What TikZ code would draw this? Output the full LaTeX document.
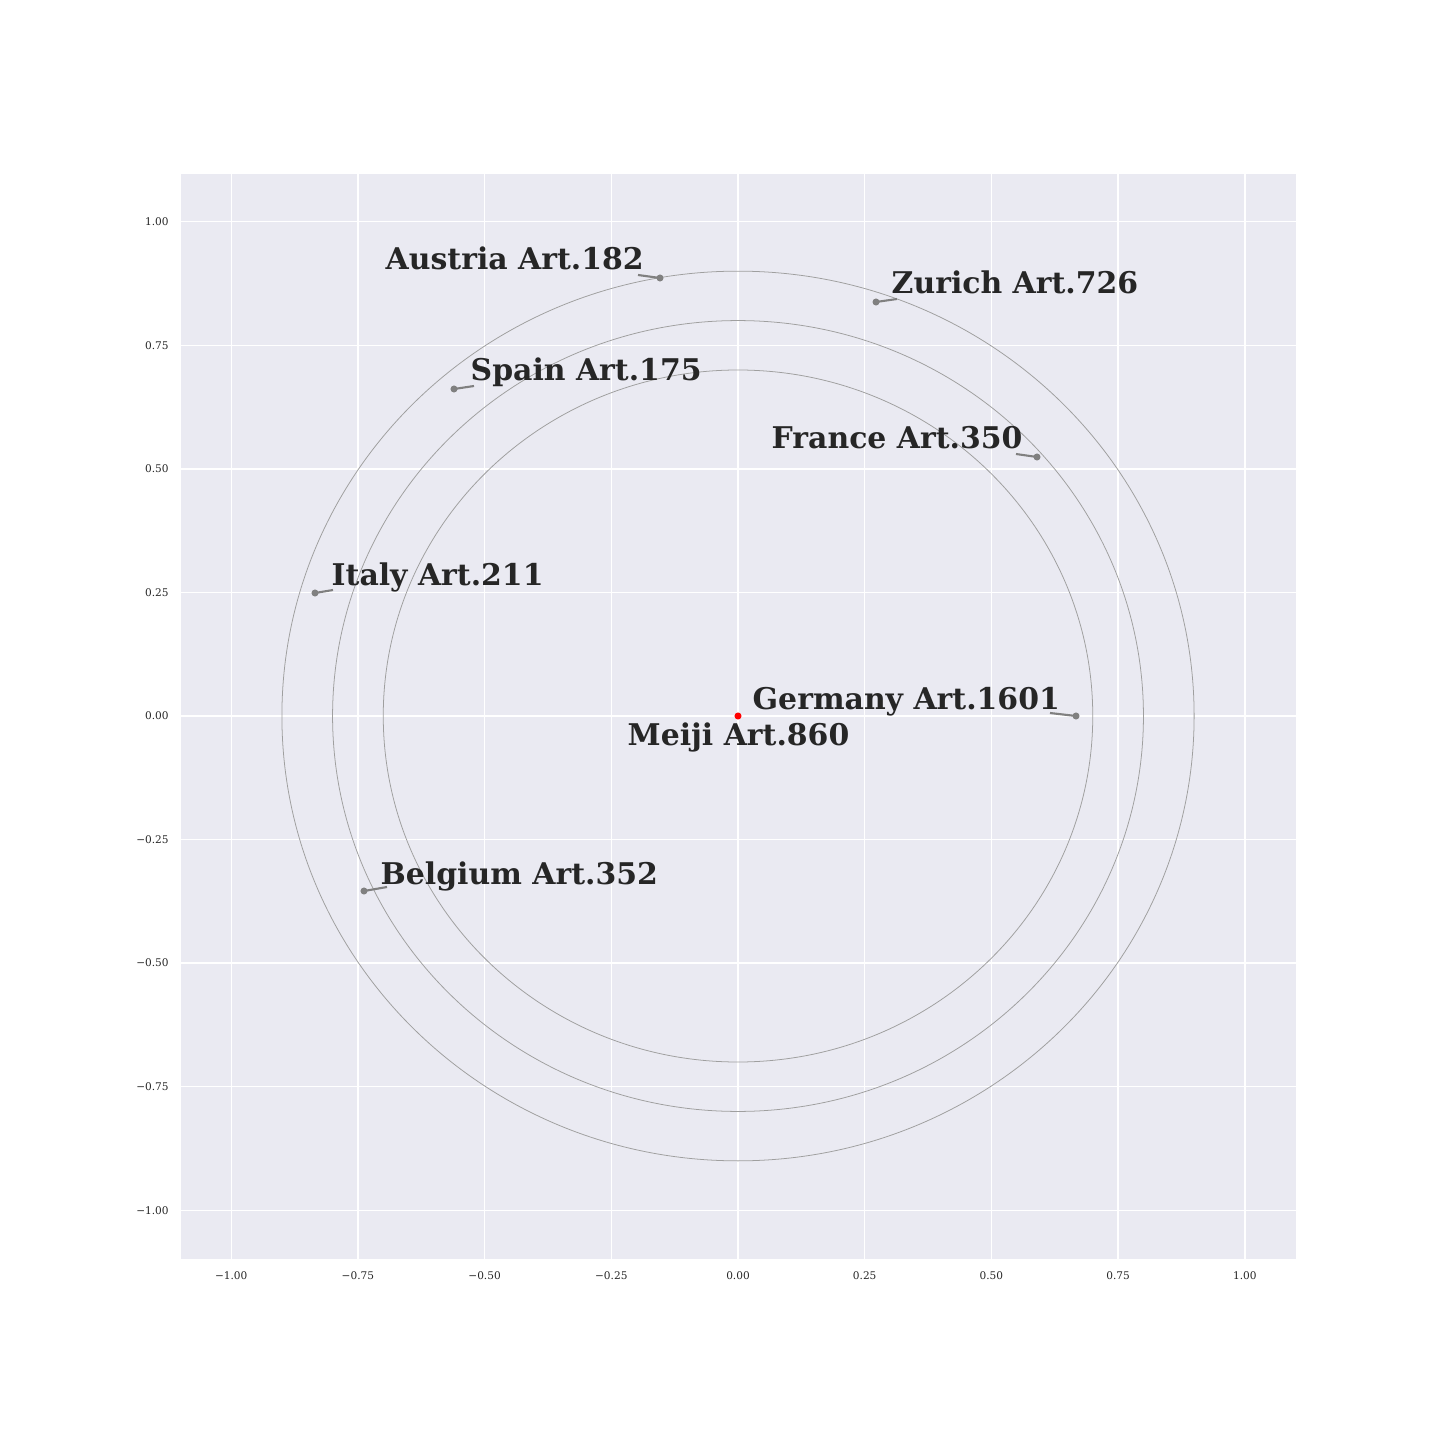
\documentclass[tikz,border=0pt]{standalone}
\usepackage{fontspec}
\setmainfont{DejaVu Serif}
\definecolor{axbg}{HTML}{EAEAF2}
\definecolor{txt}{HTML}{262626}
\tikzset{
  grid line/.style={white, line width=0.4pt},
  ring/.style={draw=gray!75, line width=0.22pt},
  leader/.style={draw=gray, line width=0.6pt},
  pt/.style={circle, fill=gray, inner sep=0pt, minimum size=2pt},
  redpt/.style={circle, fill=red, inner sep=0pt, minimum size=2pt},
  lab/.style={anchor=base west, inner sep=0pt, text=txt, font=\fontsize{8.5}{10}\selectfont\bfseries},
  tick/.style={inner sep=0pt, text=txt, font=\fontsize{3}{4}\selectfont},
}
\newcommand{\mns}{\char"2212\relax}
\begin{document}
\begin{tikzpicture}[x=0.01cm, y=-0.01cm]
\useasboundingbox (0,0) rectangle (1440,1440);
\fill[white] (0,0) rectangle (1440,1440);
\fill[axbg] (181,174) rectangle (1296,1259);
\begin{scope}[shift={(738,716)}, x=5.065cm, y=4.94cm]
  % grid
  \foreach \v in {-1,-0.75,-0.5,-0.25,0,0.25,0.5,0.75,1} {
    \draw[grid line] (\v,-1.1) -- (\v,1.1);
    \draw[grid line] (-1.1,\v) -- (1.1,\v);
  }
  % tick labels
  \foreach \v/\t in {-1/{\mns 1.00},-0.75/{\mns 0.75},-0.5/{\mns 0.50},-0.25/{\mns 0.25},0/{0.00},0.25/{0.25},0.5/{0.50},0.75/{0.75},1/{1.00}} {
    \node[tick, anchor=north] (xt\v) at (\v,-1.1-0.023) {\t};
    \node[tick, anchor=east] (yt\v) at (-1.1-0.022,\v) {\t};
  }
  % rings
  \draw[ring] (0,0) ellipse [x radius=0.7, y radius=0.7];
  \draw[ring] (0,0) ellipse [x radius=0.8, y radius=0.8];
  \draw[ring] (0,0) ellipse [x radius=0.9, y radius=0.9];
\end{scope}
% points (pixel coordinates)
\node[redpt] (meiji) at (738,716) {};
\node[pt] (austria) at (660,278) {};
\node[pt] (zurich) at (876,302) {};
\node[pt] (spain) at (454,389) {};
\node[pt] (france) at (1037,457) {};
\node[pt] (italy) at (315,593) {};
\node[pt] (germany) at (1076,716) {};
\node[pt] (belgium) at (364,891) {};
% leader ends
\coordinate (la) at (638,275);
\coordinate (lz) at (897,299);
\coordinate (ls) at (474,386);
\coordinate (lf) at (1016,454);
\coordinate (li) at (333,590);
\coordinate (lg) at (1050,713);
\coordinate (lb) at (387,887);
\draw[leader] (austria.center) -- (la);
\draw[leader] (zurich.center) -- (lz);
\draw[leader] (spain.center) -- (ls);
\draw[leader] (france.center) -- (lf);
\draw[leader] (italy.center) -- (li);
\draw[leader] (germany.center) -- (lg);
\draw[leader] (belgium.center) -- (lb);
% labels
\node[lab] (tAustria) at (385,270) {Austria Art.182};
\node[lab] (tZurich) at (891,294) {Zurich Art.726};
\node[lab] (tSpain) at (470,381) {Spain Art.175};
\node[lab] (tFrance) at (771,449) {France Art.350};
\node[lab] (tItaly) at (331,585) {Italy Art.211};
\node[lab] (tGermany) at (752,709) {Germany Art.1601};
\node[lab] (tMeiji) at (627,745) {Meiji Art.860};
\node[lab] (tBelgium) at (380,884) {Belgium Art.352};
\end{tikzpicture}
\end{document}
